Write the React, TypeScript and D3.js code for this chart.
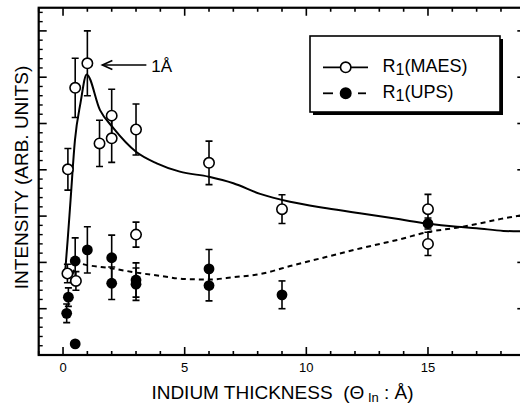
import React from 'react';
import * as d3 from 'd3';

// measured points: [thickness, intensity, error]
const maesPoints = [
  [0.2, 4.01, 0.45],
  [0.5, 5.77, 0.64],
  [1.0, 6.3, 0.7],
  [1.5, 4.57, 0.5],
  [2.0, 5.17, 0.57],
  [2.0, 4.68, 0.52],
  [3.0, 4.87, 0.55],
  [6.0, 4.15, 0.47],
  [9.0, 3.15, 0.31],
  [15.0, 3.15, 0.32],
  [15.0, 2.4, 0.25],
  [0.18, 1.76, 0.2],
  [0.53, 1.6, 0.2],
  [3.0, 2.6, 0.27],
];

const upsPoints = [
  [0.15, 0.9, 0.2],
  [0.22, 1.25, 0.2],
  [0.5, 2.03, 0.5],
  [0.5, 0.24, 0],
  [1.0, 2.27, 0.5],
  [2.0, 2.1, 0.49],
  [2.0, 1.55, 0.35],
  [3.0, 1.62, 0.37],
  [3.0, 1.53, 0.35],
  [6.0, 1.86, 0.42],
  [6.0, 1.5, 0.33],
  [9.0, 1.3, 0.3],
  [15.0, 2.84, 0.12],
];

// fitted curves
const maesFit = [
  [0.08, 1.75], [0.19, 2.48], [0.31, 3.35], [0.49, 4.64], [0.72, 5.45], [0.97, 6.06],
  [1.52, 5.29], [2.07, 4.9], [3.0, 4.39], [3.85, 4.14], [4.8, 3.96], [6.0, 3.85],
  [7.0, 3.71], [8.1, 3.48], [9.33, 3.31], [10.84, 3.17], [12.2, 3.06], [13.85, 2.93],
  [14.95, 2.84], [16.2, 2.77], [17.0, 2.74], [18.1, 2.68], [19.0, 2.67],
];

const upsFit = [
  [0.3, 1.55], [0.6, 1.98], [1.0, 1.94], [2.0, 1.87], [3.0, 1.78], [4.0, 1.71],
  [5.0, 1.64], [6.0, 1.63], [7.0, 1.68], [8.1, 1.75], [9.47, 1.94], [10.84, 2.12],
  [12.2, 2.3], [13.85, 2.5], [14.95, 2.65], [16.3, 2.76], [17.1, 2.84], [18.0, 2.94],
  [19.0, 3.03],
];

const xTickLabels = [0, 5, 10, 15];
const legendLabels = ['MAES', 'UPS'];

const W = 520;
const H = 406;
const FONT = '"Liberation Sans", Arial, Helvetica, sans-serif';

const x = d3.scaleLinear().domain([-1, 19]).range([38.7, 525.3]);
const y = d3.scaleLinear().domain([0, 7.5]).range([355, 7.75]);

const fitLine = d3
  .line()
  .x(d => x(d[0]))
  .y(d => y(d[1]))
  .curve(d3.curveMonotoneX);

const ErrorBar = ({ d }) => {
  if (!d[2]) return null;
  const cx = x(d[0]);
  const top = y(d[1] + d[2]);
  const bot = y(d[1] - d[2]);
  return (
    <g stroke="#000" strokeWidth="1.6">
      <line x1={cx} x2={cx} y1={top} y2={bot} />
      <line x1={cx - 3.5} x2={cx + 3.5} y1={top} y2={top} />
      <line x1={cx - 3.5} x2={cx + 3.5} y1={bot} y2={bot} />
    </g>
  );
};

const App = () => {
  const [x0, x1] = x.range();
  const [y0, y1] = y.range();
  const xMinor = d3.range(-1, 20, 1);
  const yMinor = d3.range(0, 7.6, 0.2).filter(v => Math.abs(v - Math.round(v)) > 0.01);
  const yMajor = d3.range(1, 8, 1);

  return (
    <svg
      width={W}
      height={H}
      style={{ position: 'absolute', left: 0, top: 0, background: '#fff' }}
      fontFamily={FONT}
    >
      <defs>
        <clipPath id="plot">
          <rect x={x0} y={y1} width={x1 - x0} height={y0 - y1} />
        </clipPath>
      </defs>

      {/* frame */}
      <rect x={x0} y={y1} width={x1 - x0} height={y0 - y1} fill="none" stroke="#000" strokeWidth="2.2" />

      {/* x ticks, bottom and top */}
      {xMinor.map(v => {
        const major = v % 5 === 0;
        const len = major ? 8 : 4;
        return (
          <g key={'xt' + v} stroke="#000" strokeWidth="1.6">
            <line x1={x(v)} x2={x(v)} y1={y0} y2={y0 - len} />
            <line x1={x(v)} x2={x(v)} y1={y1} y2={y1 + len} />
          </g>
        );
      })}
      {xTickLabels.map(v => (
        <text key={'xl' + v} x={x(v)} y={372} textAnchor="middle" fontSize="13">
          {v}
        </text>
      ))}

      {/* y ticks, left and right */}
      {yMajor.map(v => (
        <g key={'yM' + v} stroke="#000" strokeWidth="1.6">
          <line x1={x0} x2={x0 + 8} y1={y(v)} y2={y(v)} />
          <line x1={x1} x2={x1 - 8} y1={y(v)} y2={y(v)} />
        </g>
      ))}
      {yMinor.map(v => (
        <g key={'ym' + v} stroke="#000" strokeWidth="1.4">
          <line x1={x0} x2={x0 + 4} y1={y(v)} y2={y(v)} />
          <line x1={x1} x2={x1 - 4} y1={y(v)} y2={y(v)} />
        </g>
      ))}

      <g clipPath="url(#plot)">
        <path d={fitLine(maesFit)} fill="none" stroke="#000" strokeWidth="2" />
        <path d={fitLine(upsFit)} fill="none" stroke="#000" strokeWidth="2" strokeDasharray="5,4" />

        {maesPoints.map((d, i) => <ErrorBar key={'me' + i} d={d} />)}
        {upsPoints.map((d, i) => <ErrorBar key={'ue' + i} d={d} />)}

        {maesPoints.map((d, i) => (
          <circle key={'mc' + i} cx={x(d[0])} cy={y(d[1])} r={5.2} fill="#fff" stroke="#000" strokeWidth="1.6" />
        ))}
        {upsPoints.map((d, i) => (
          <circle key={'uc' + i} cx={x(d[0])} cy={y(d[1])} r={5.4} fill="#000" />
        ))}
      </g>

      {/* 1 Å annotation */}
      <g stroke="#000" strokeWidth="1.6" fill="none">
        <line x1={x(1) + 15} x2={x(1) + 59} y1={65} y2={65} />
        <path d={`M${x(1) + 25},60.5 L${x(1) + 15},65 L${x(1) + 25},69.5`} />
      </g>
      <text x={x(1) + 64} y={71.5} fontSize="17">1Å</text>

      {/* legend */}
      <rect x={313} y={39} width={190} height={76} fill="#000" />
      <rect x={310} y={36} width={190} height={76} fill="#fff" stroke="#000" strokeWidth="1.6" />
      {legendLabels.map((lab, i) => {
        const ly = 67.3 + i * 26;
        return (
          <g key={lab}>
            {i === 0 ? (
              <line x1={323} x2={368} y1={ly} y2={ly} stroke="#000" strokeWidth="1.8" />
            ) : (
              <g stroke="#000" strokeWidth="1.8">
                <line x1={323} x2={333} y1={ly} y2={ly} />
                <line x1={358} x2={366} y1={ly} y2={ly} />
              </g>
            )}
            <circle
              cx={345.7}
              cy={ly}
              r={5.2}
              fill={i === 0 ? '#fff' : '#000'}
              stroke="#000"
              strokeWidth="1.6"
            />
            <text x={382.5} y={ly + 4.5} fontSize="18">
              R<tspan fontSize="16" dy="3">1</tspan>
              <tspan dy="-3">({lab})</tspan>
            </text>
          </g>
        );
      })}

      {/* axis titles */}
      <text x={282.5} y={399} textAnchor="middle" fontSize="19" style={{ whiteSpace: 'pre' }}>
        {'INDIUM THICKNESS  (Θ'}
        <tspan fontSize="13" dy="3">{' In'}</tspan>
        <tspan dy="-3">{' : Å)'}</tspan>
      </text>
      <text
        transform="translate(28,177.5) rotate(-90)"
        textAnchor="middle"
        fontSize="19"
      >
        INTENSITY (ARB. UNITS)
      </text>
    </svg>
  );
};

export default App;
